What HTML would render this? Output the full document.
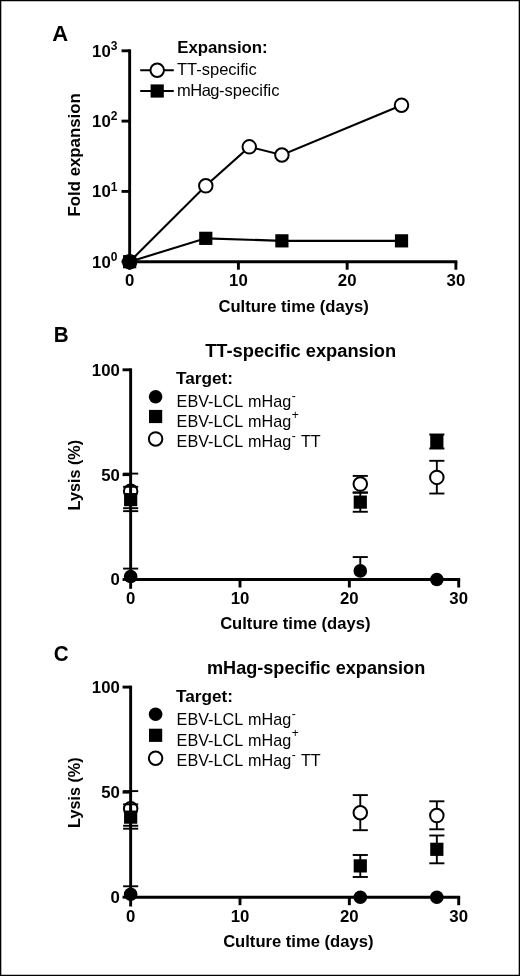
<!DOCTYPE html>
<html lang="en">
<head>
<meta charset="utf-8">
<title>Figure: fold expansion and lysis of TT-specific and mHag-specific cultures</title>
<style>
html,body{margin:0;padding:0;background:#fff;}
body{width:520px;height:976px;overflow:hidden;}
svg{display:block;}
svg text{font-family:"Liberation Sans",Arial,Helvetica,sans-serif;fill:#000;}
</style>
</head>
<body>
<svg width="520" height="976" viewBox="0 0 520 976">
<rect x="0" y="0" width="520" height="976" fill="#fff"/>
<g id="panelA">
<text x="52.20" y="40.90" font-size="22" font-weight="bold" text-anchor="start">A</text>
<line x1="129.65" y1="49.35" x2="129.65" y2="263.15" stroke="#000" stroke-width="2.9" stroke-linecap="butt"/>
<line x1="129.65" y1="261.70" x2="457.35" y2="261.70" stroke="#000" stroke-width="2.9" stroke-linecap="butt"/>
<line x1="121.55" y1="261.70" x2="129.65" y2="261.70" stroke="#000" stroke-width="2.9" stroke-linecap="butt"/>
<text x="117.45" y="267.70" font-size="16.8" font-weight="bold" text-anchor="end">10<tspan dy="-6.7" font-size="12">0</tspan></text>
<line x1="121.55" y1="191.40" x2="129.65" y2="191.40" stroke="#000" stroke-width="2.9" stroke-linecap="butt"/>
<text x="117.45" y="197.40" font-size="16.8" font-weight="bold" text-anchor="end">10<tspan dy="-6.7" font-size="12">1</tspan></text>
<line x1="121.55" y1="121.10" x2="129.65" y2="121.10" stroke="#000" stroke-width="2.9" stroke-linecap="butt"/>
<text x="117.45" y="127.10" font-size="16.8" font-weight="bold" text-anchor="end">10<tspan dy="-6.7" font-size="12">2</tspan></text>
<line x1="121.55" y1="50.80" x2="129.65" y2="50.80" stroke="#000" stroke-width="2.9" stroke-linecap="butt"/>
<text x="117.45" y="56.80" font-size="16.8" font-weight="bold" text-anchor="end">10<tspan dy="-6.7" font-size="12">3</tspan></text>
<line x1="129.65" y1="261.70" x2="129.65" y2="269.70" stroke="#000" stroke-width="2.9" stroke-linecap="butt"/>
<text x="129.65" y="286.40" font-size="16.8" font-weight="bold" text-anchor="middle">0</text>
<line x1="238.40" y1="261.70" x2="238.40" y2="269.70" stroke="#000" stroke-width="2.9" stroke-linecap="butt"/>
<text x="238.40" y="286.40" font-size="16.8" font-weight="bold" text-anchor="middle">10</text>
<line x1="347.15" y1="261.70" x2="347.15" y2="269.70" stroke="#000" stroke-width="2.9" stroke-linecap="butt"/>
<text x="347.15" y="286.40" font-size="16.8" font-weight="bold" text-anchor="middle">20</text>
<line x1="455.90" y1="261.70" x2="455.90" y2="269.70" stroke="#000" stroke-width="2.9" stroke-linecap="butt"/>
<text x="455.90" y="286.40" font-size="16.8" font-weight="bold" text-anchor="middle">30</text>
<text x="0.00" y="0.00" font-size="16.8" font-weight="bold" text-anchor="middle" transform="translate(79.7 154.85) rotate(-90)">Fold expansion</text>
<text x="293.57" y="311.60" font-size="16.6" font-weight="bold" text-anchor="middle">Culture time (days)</text>
<text x="177.20" y="52.70" font-size="16.8" font-weight="bold" text-anchor="start">Expansion:</text>
<line x1="140.20" y1="70.20" x2="173.80" y2="70.20" stroke="#000" stroke-width="2.1" stroke-linecap="butt"/>
<circle cx="157.20" cy="70.20" r="6.75" fill="#fff" stroke="#000" stroke-width="2.0"/>
<text x="177.00" y="75.20" font-size="16.5" font-weight="normal" text-anchor="start">TT-specific</text>
<line x1="140.20" y1="91.00" x2="173.80" y2="91.00" stroke="#000" stroke-width="2.1" stroke-linecap="butt"/>
<rect x="150.60" y="84.40" width="13.2" height="13.2" fill="#000"/>
<text x="177.00" y="95.80" font-size="16.5" font-weight="normal" text-anchor="start"><tspan letter-spacing="-0.5">mHag</tspan>-specific</text>
<polyline points="129.65,261.70 205.78,185.83 249.28,146.87 281.90,154.95 401.52,105.26" fill="none" stroke="#000" stroke-width="2.1"/>
<polyline points="129.65,261.70 205.78,238.33 281.90,240.84 401.52,240.84" fill="none" stroke="#000" stroke-width="2.1"/>
<circle cx="129.65" cy="261.70" r="6.75" fill="#fff" stroke="#000" stroke-width="2.0"/>
<circle cx="205.78" cy="185.83" r="6.75" fill="#fff" stroke="#000" stroke-width="2.0"/>
<circle cx="249.28" cy="146.87" r="6.75" fill="#fff" stroke="#000" stroke-width="2.0"/>
<circle cx="281.90" cy="154.95" r="6.75" fill="#fff" stroke="#000" stroke-width="2.0"/>
<circle cx="401.52" cy="105.26" r="6.75" fill="#fff" stroke="#000" stroke-width="2.0"/>
<rect x="123.05" y="255.10" width="13.2" height="13.2" fill="#000"/>
<rect x="199.18" y="231.73" width="13.2" height="13.2" fill="#000"/>
<rect x="275.30" y="234.24" width="13.2" height="13.2" fill="#000"/>
<rect x="394.92" y="234.24" width="13.2" height="13.2" fill="#000"/>
</g>
<g id="panelB">
<text x="0.00" y="0.00" font-size="22.4" font-weight="bold" text-anchor="start" transform="translate(53.7 341.70) scale(0.92 1)">B</text>
<text x="300.68" y="357.30" font-size="18.3" font-weight="bold" text-anchor="middle">TT-specific expansion</text>
<line x1="130.65" y1="368.35" x2="130.65" y2="580.95" stroke="#000" stroke-width="2.9" stroke-linecap="butt"/>
<line x1="130.65" y1="579.50" x2="460.15" y2="579.50" stroke="#000" stroke-width="2.9" stroke-linecap="butt"/>
<line x1="122.55" y1="579.50" x2="130.65" y2="579.50" stroke="#000" stroke-width="2.9" stroke-linecap="butt"/>
<text x="119.85" y="585.40" font-size="16.8" font-weight="bold" text-anchor="end">0</text>
<line x1="122.55" y1="474.65" x2="130.65" y2="474.65" stroke="#000" stroke-width="2.9" stroke-linecap="butt"/>
<text x="119.85" y="480.55" font-size="16.8" font-weight="bold" text-anchor="end">50</text>
<line x1="122.55" y1="369.80" x2="130.65" y2="369.80" stroke="#000" stroke-width="2.9" stroke-linecap="butt"/>
<text x="119.85" y="375.70" font-size="16.8" font-weight="bold" text-anchor="end">100</text>
<line x1="130.65" y1="579.50" x2="130.65" y2="588.80" stroke="#000" stroke-width="2.9" stroke-linecap="butt"/>
<text x="130.65" y="603.80" font-size="16.8" font-weight="bold" text-anchor="middle">0</text>
<line x1="240.00" y1="579.50" x2="240.00" y2="587.50" stroke="#000" stroke-width="2.9" stroke-linecap="butt"/>
<text x="240.00" y="603.80" font-size="16.8" font-weight="bold" text-anchor="middle">10</text>
<line x1="349.35" y1="579.50" x2="349.35" y2="587.50" stroke="#000" stroke-width="2.9" stroke-linecap="butt"/>
<text x="349.35" y="603.80" font-size="16.8" font-weight="bold" text-anchor="middle">20</text>
<line x1="458.70" y1="579.50" x2="458.70" y2="587.50" stroke="#000" stroke-width="2.9" stroke-linecap="butt"/>
<text x="458.70" y="603.80" font-size="16.8" font-weight="bold" text-anchor="middle">30</text>
<text x="0.00" y="0.00" font-size="16.2" font-weight="bold" text-anchor="middle" transform="translate(80.0 475.15) rotate(-90)">Lysis (%)</text>
<text x="295.28" y="628.80" font-size="16.6" font-weight="bold" text-anchor="middle">Culture time (days)</text>
<text x="176.00" y="383.60" font-size="17.2" font-weight="bold" text-anchor="start">Target:</text>
<circle cx="155.60" cy="396.80" r="6.8" fill="#000"/>
<rect x="149.00" y="409.90" width="13.2" height="13.2" fill="#000"/>
<circle cx="155.60" cy="438.90" r="6.75" fill="#fff" stroke="#000" stroke-width="2.0"/>
<text x="176.6" y="406.90" font-size="16.2" word-spacing="0.9">EBV-LCL mHag<tspan dy="-6.9" dx="0.5" font-size="12">-</tspan></text>
<text x="176.6" y="427.10" font-size="16.2" word-spacing="0.9">EBV-LCL mHag<tspan dy="-8.3" dx="0.5" font-size="12">+</tspan></text>
<text x="176.6" y="447.10" font-size="16.2" word-spacing="0.9">EBV-LCL mHag<tspan dy="-6.9" dx="0.5" font-size="12">-</tspan><tspan dy="6.9" dx="0.2"> TT</tspan></text>
<line x1="130.65" y1="473.60" x2="130.65" y2="508.20" stroke="#000" stroke-width="1.9" stroke-linecap="butt"/>
<line x1="123.10" y1="473.60" x2="138.20" y2="473.60" stroke="#000" stroke-width="1.9" stroke-linecap="butt"/>
<line x1="123.10" y1="508.20" x2="138.20" y2="508.20" stroke="#000" stroke-width="1.9" stroke-linecap="butt"/>
<circle cx="130.65" cy="491.22" r="6.75" fill="none" stroke="#000" stroke-width="2.0"/>
<line x1="360.28" y1="475.91" x2="360.28" y2="492.68" stroke="#000" stroke-width="1.9" stroke-linecap="butt"/>
<line x1="352.73" y1="475.91" x2="367.83" y2="475.91" stroke="#000" stroke-width="1.9" stroke-linecap="butt"/>
<line x1="352.73" y1="492.68" x2="367.83" y2="492.68" stroke="#000" stroke-width="1.9" stroke-linecap="butt"/>
<circle cx="360.28" cy="484.09" r="6.75" fill="#fff" stroke="#000" stroke-width="2.0"/>
<line x1="436.83" y1="460.81" x2="436.83" y2="493.52" stroke="#000" stroke-width="1.9" stroke-linecap="butt"/>
<line x1="429.28" y1="460.81" x2="444.38" y2="460.81" stroke="#000" stroke-width="1.9" stroke-linecap="butt"/>
<line x1="429.28" y1="493.52" x2="444.38" y2="493.52" stroke="#000" stroke-width="1.9" stroke-linecap="butt"/>
<circle cx="436.83" cy="477.38" r="6.75" fill="#fff" stroke="#000" stroke-width="2.0"/>
<line x1="130.65" y1="568.60" x2="130.65" y2="576.56" stroke="#000" stroke-width="1.9" stroke-linecap="butt"/>
<line x1="123.10" y1="568.60" x2="138.20" y2="568.60" stroke="#000" stroke-width="1.9" stroke-linecap="butt"/>
<circle cx="130.65" cy="576.56" r="6.8" fill="#000"/>
<line x1="360.28" y1="557.06" x2="360.28" y2="570.90" stroke="#000" stroke-width="1.9" stroke-linecap="butt"/>
<line x1="352.73" y1="557.06" x2="367.83" y2="557.06" stroke="#000" stroke-width="1.9" stroke-linecap="butt"/>
<circle cx="360.28" cy="570.90" r="6.8" fill="#000"/>
<circle cx="436.83" cy="579.50" r="6.8" fill="#000"/>
<line x1="130.65" y1="486.81" x2="130.65" y2="511.14" stroke="#000" stroke-width="1.9" stroke-linecap="butt"/>
<line x1="123.10" y1="486.81" x2="138.20" y2="486.81" stroke="#000" stroke-width="1.9" stroke-linecap="butt"/>
<line x1="123.10" y1="511.14" x2="138.20" y2="511.14" stroke="#000" stroke-width="1.9" stroke-linecap="butt"/>
<rect x="124.05" y="493.00" width="13.2" height="13.2" fill="#000"/>
<line x1="360.28" y1="492.47" x2="360.28" y2="511.77" stroke="#000" stroke-width="1.9" stroke-linecap="butt"/>
<line x1="352.73" y1="492.47" x2="367.83" y2="492.47" stroke="#000" stroke-width="1.9" stroke-linecap="butt"/>
<line x1="352.73" y1="511.77" x2="367.83" y2="511.77" stroke="#000" stroke-width="1.9" stroke-linecap="butt"/>
<rect x="353.68" y="495.52" width="13.2" height="13.2" fill="#000"/>
<line x1="436.83" y1="434.49" x2="436.83" y2="448.54" stroke="#000" stroke-width="1.9" stroke-linecap="butt"/>
<line x1="429.28" y1="434.49" x2="444.38" y2="434.49" stroke="#000" stroke-width="1.9" stroke-linecap="butt"/>
<line x1="429.28" y1="448.54" x2="444.38" y2="448.54" stroke="#000" stroke-width="1.9" stroke-linecap="butt"/>
<rect x="430.23" y="434.92" width="13.2" height="13.2" fill="#000"/>
</g>
<g id="panelC">
<text x="0.00" y="0.00" font-size="22.4" font-weight="bold" text-anchor="start" transform="translate(53.7 660.60) scale(0.92 1)">C</text>
<text x="207.00" y="674.30" font-size="18.1" font-weight="bold" text-anchor="start">mHag-specific expansion</text>
<line x1="130.65" y1="685.65" x2="130.65" y2="898.65" stroke="#000" stroke-width="2.9" stroke-linecap="butt"/>
<line x1="130.65" y1="897.20" x2="460.15" y2="897.20" stroke="#000" stroke-width="2.9" stroke-linecap="butt"/>
<line x1="122.55" y1="897.20" x2="130.65" y2="897.20" stroke="#000" stroke-width="2.9" stroke-linecap="butt"/>
<text x="119.85" y="903.10" font-size="16.8" font-weight="bold" text-anchor="end">0</text>
<line x1="122.55" y1="792.15" x2="130.65" y2="792.15" stroke="#000" stroke-width="2.9" stroke-linecap="butt"/>
<text x="119.85" y="798.05" font-size="16.8" font-weight="bold" text-anchor="end">50</text>
<line x1="122.55" y1="687.10" x2="130.65" y2="687.10" stroke="#000" stroke-width="2.9" stroke-linecap="butt"/>
<text x="119.85" y="693.00" font-size="16.8" font-weight="bold" text-anchor="end">100</text>
<line x1="130.65" y1="897.20" x2="130.65" y2="906.50" stroke="#000" stroke-width="2.9" stroke-linecap="butt"/>
<text x="130.65" y="921.50" font-size="16.8" font-weight="bold" text-anchor="middle">0</text>
<line x1="240.00" y1="897.20" x2="240.00" y2="905.20" stroke="#000" stroke-width="2.9" stroke-linecap="butt"/>
<text x="240.00" y="921.50" font-size="16.8" font-weight="bold" text-anchor="middle">10</text>
<line x1="349.35" y1="897.20" x2="349.35" y2="905.20" stroke="#000" stroke-width="2.9" stroke-linecap="butt"/>
<text x="349.35" y="921.50" font-size="16.8" font-weight="bold" text-anchor="middle">20</text>
<line x1="458.70" y1="897.20" x2="458.70" y2="905.20" stroke="#000" stroke-width="2.9" stroke-linecap="butt"/>
<text x="458.70" y="921.50" font-size="16.8" font-weight="bold" text-anchor="middle">30</text>
<text x="0.00" y="0.00" font-size="16.2" font-weight="bold" text-anchor="middle" transform="translate(80.0 792.65) rotate(-90)">Lysis (%)</text>
<text x="298.28" y="946.50" font-size="16.6" font-weight="bold" text-anchor="middle">Culture time (days)</text>
<text x="176.00" y="701.60" font-size="17.2" font-weight="bold" text-anchor="start">Target:</text>
<circle cx="155.60" cy="714.20" r="6.8" fill="#000"/>
<rect x="149.00" y="728.70" width="13.2" height="13.2" fill="#000"/>
<circle cx="155.60" cy="758.20" r="6.75" fill="#fff" stroke="#000" stroke-width="2.0"/>
<text x="176.6" y="725.10" font-size="16.2" word-spacing="0.9">EBV-LCL mHag<tspan dy="-6.9" dx="0.5" font-size="12">-</tspan></text>
<text x="176.6" y="745.70" font-size="16.2" word-spacing="0.9">EBV-LCL mHag<tspan dy="-8.3" dx="0.5" font-size="12">+</tspan></text>
<text x="176.6" y="766.20" font-size="16.2" word-spacing="0.9">EBV-LCL mHag<tspan dy="-6.9" dx="0.5" font-size="12">-</tspan><tspan dy="6.9" dx="0.2"> TT</tspan></text>
<line x1="130.65" y1="791.10" x2="130.65" y2="825.77" stroke="#000" stroke-width="1.9" stroke-linecap="butt"/>
<line x1="123.10" y1="791.10" x2="138.20" y2="791.10" stroke="#000" stroke-width="1.9" stroke-linecap="butt"/>
<line x1="123.10" y1="825.77" x2="138.20" y2="825.77" stroke="#000" stroke-width="1.9" stroke-linecap="butt"/>
<circle cx="130.65" cy="808.75" r="6.75" fill="none" stroke="#000" stroke-width="2.0"/>
<line x1="360.28" y1="795.10" x2="360.28" y2="830.20" stroke="#000" stroke-width="1.9" stroke-linecap="butt"/>
<line x1="352.73" y1="795.10" x2="367.83" y2="795.10" stroke="#000" stroke-width="1.9" stroke-linecap="butt"/>
<line x1="352.73" y1="830.20" x2="367.83" y2="830.20" stroke="#000" stroke-width="1.9" stroke-linecap="butt"/>
<circle cx="360.28" cy="812.80" r="6.75" fill="#fff" stroke="#000" stroke-width="2.0"/>
<line x1="436.83" y1="801.30" x2="436.83" y2="829.30" stroke="#000" stroke-width="1.9" stroke-linecap="butt"/>
<line x1="429.28" y1="801.30" x2="444.38" y2="801.30" stroke="#000" stroke-width="1.9" stroke-linecap="butt"/>
<line x1="429.28" y1="829.30" x2="444.38" y2="829.30" stroke="#000" stroke-width="1.9" stroke-linecap="butt"/>
<circle cx="436.83" cy="815.60" r="6.75" fill="#fff" stroke="#000" stroke-width="2.0"/>
<line x1="130.65" y1="886.27" x2="130.65" y2="894.26" stroke="#000" stroke-width="1.9" stroke-linecap="butt"/>
<line x1="123.10" y1="886.27" x2="138.20" y2="886.27" stroke="#000" stroke-width="1.9" stroke-linecap="butt"/>
<circle cx="130.65" cy="894.26" r="6.8" fill="#000"/>
<circle cx="360.28" cy="897.20" r="6.8" fill="#000"/>
<circle cx="436.83" cy="897.20" r="6.8" fill="#000"/>
<line x1="130.65" y1="804.34" x2="130.65" y2="828.71" stroke="#000" stroke-width="1.9" stroke-linecap="butt"/>
<line x1="123.10" y1="804.34" x2="138.20" y2="804.34" stroke="#000" stroke-width="1.9" stroke-linecap="butt"/>
<line x1="123.10" y1="828.71" x2="138.20" y2="828.71" stroke="#000" stroke-width="1.9" stroke-linecap="butt"/>
<rect x="124.05" y="810.55" width="13.2" height="13.2" fill="#000"/>
<line x1="360.28" y1="855.00" x2="360.28" y2="877.00" stroke="#000" stroke-width="1.9" stroke-linecap="butt"/>
<line x1="352.73" y1="855.00" x2="367.83" y2="855.00" stroke="#000" stroke-width="1.9" stroke-linecap="butt"/>
<line x1="352.73" y1="877.00" x2="367.83" y2="877.00" stroke="#000" stroke-width="1.9" stroke-linecap="butt"/>
<rect x="353.68" y="859.30" width="13.2" height="13.2" fill="#000"/>
<line x1="436.83" y1="835.50" x2="436.83" y2="863.30" stroke="#000" stroke-width="1.9" stroke-linecap="butt"/>
<line x1="429.28" y1="835.50" x2="444.38" y2="835.50" stroke="#000" stroke-width="1.9" stroke-linecap="butt"/>
<line x1="429.28" y1="863.30" x2="444.38" y2="863.30" stroke="#000" stroke-width="1.9" stroke-linecap="butt"/>
<rect x="430.23" y="842.70" width="13.2" height="13.2" fill="#000"/>
</g>
<path d="M0 0H520V976H0Z M1.3 1.3V974.7H518.7V1.3Z" fill="#000" fill-rule="evenodd"/>
</svg>
</body>
</html>
